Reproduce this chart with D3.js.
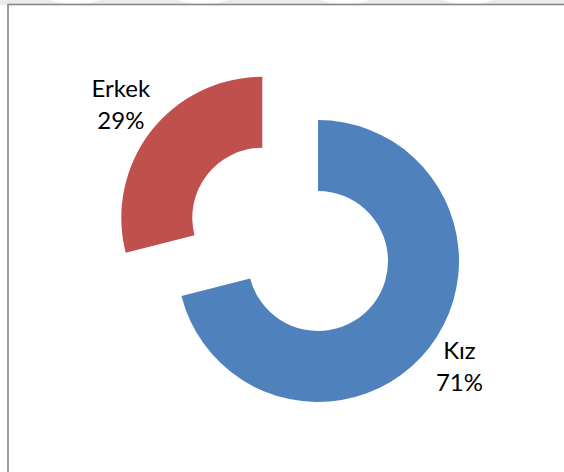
<!DOCTYPE html>
<html>
<head>
<meta charset="utf-8">
<script src="https://cdn.jsdelivr.net/npm/d3@7"></script>
<style>
  html, body { margin: 0; padding: 0; background: #fff; }
  svg { display: block; }
</style>
</head>
<body>
<svg id="chart" width="564" height="472"></svg>
<script>
// Öğrencilerin cinsiyete göre dağılımı
const categories = ["Kız", "Erkek"];
const values = [71, 29];
const colors = ["#4F81BD", "#C0504D"];
const explodeFractions = [0, 0.5]; // share of outer radius each slice is pulled out

const W = 564, H = 472;
const cx = 318, cy = 261;
const outerR = 141, innerR = 70;
const labelR = 179;

const svg = d3.select("#chart");

// light strip along the very top with soft highlights
const topStrip = svg.append("g");
topStrip.append("rect").attr("x", 0).attr("y", 0).attr("width", W).attr("height", 5).attr("fill", "#ebebeb");
[75, 203, 345, 468].forEach(x => {
  topStrip.append("ellipse").attr("cx", x).attr("cy", -2).attr("rx", 26).attr("ry", 6)
    .attr("fill", "#fbfbfb");
});

// chart area frame
svg.append("rect")
  .attr("x", 8).attr("y", 4.5)
  .attr("width", W + 20).attr("height", H + 20)
  .attr("fill", "#fff")
  .attr("stroke", "#878787")
  .attr("stroke-width", 1.6);

const total = d3.sum(values);
const pie = d3.pie().sort(null).value(d => d.value);
const arcs = pie(categories.map((c, i) => ({ name: c, value: values[i], i })));

const arc = d3.arc().innerRadius(innerR).outerRadius(outerR);

const g = svg.append("g").attr("transform", `translate(${cx},${cy})`);

arcs.forEach(a => {
  const mid = (a.startAngle + a.endAngle) / 2;
  const off = explodeFractions[a.data.i] * outerR;
  const ox = Math.sin(mid) * off, oy = -Math.cos(mid) * off;
  const sg = g.append("g").attr("transform", `translate(${ox},${oy})`);
  sg.append("path").attr("d", arc(a)).attr("fill", colors[a.data.i]);

  const lx = Math.sin(mid) * labelR;
  const ly = -Math.cos(mid) * labelR - 4;
  const pct = Math.round(a.data.value / total * 100) + "%";
  const t = sg.append("text")
    .attr("text-anchor", "middle")
    .attr("font-family", "Lato, 'Open Sans', sans-serif")
    .attr("font-size", 24)
    .attr("fill", "#000");
  t.append("tspan").attr("x", lx).attr("y", ly - 7.5).text(a.data.name);
  t.append("tspan").attr("x", lx).attr("y", ly + 24.5).text(pct);
});
</script>
</body>
</html>
